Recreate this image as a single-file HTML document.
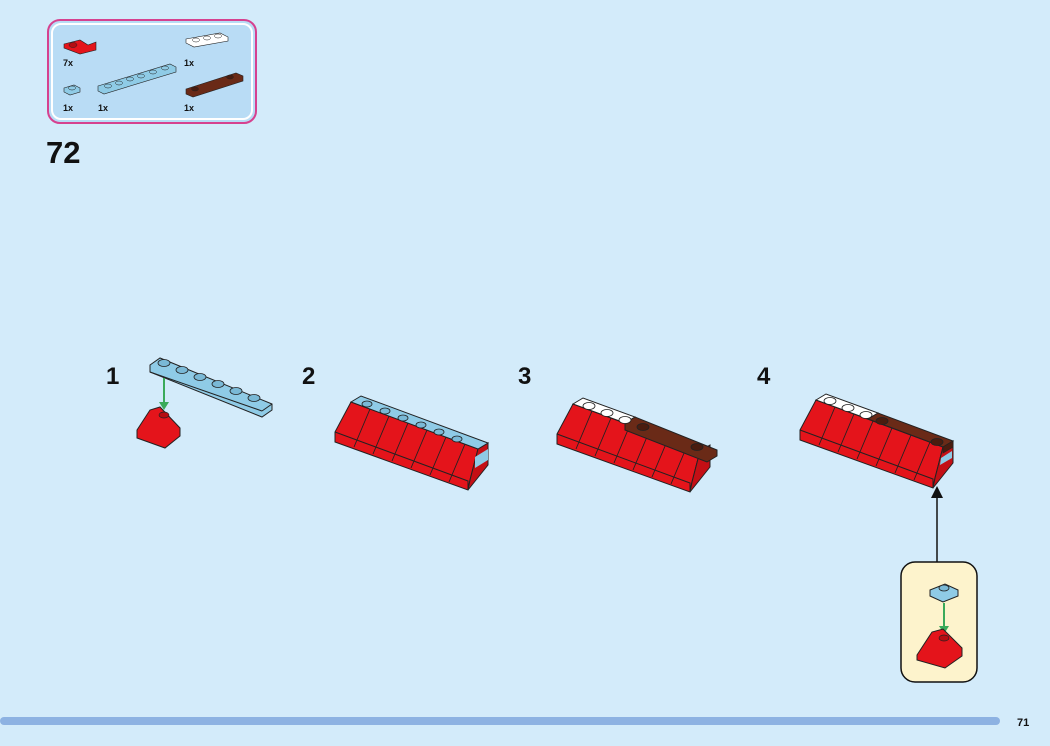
<!DOCTYPE html>
<html><head><style>
body{margin:0;width:1050px;height:746px;background:#d3ebfa;overflow:hidden;font-family:"Liberation Sans",sans-serif}
svg{position:absolute;left:0;top:0}
</style></head><body>
<svg width="1050" height="746" viewBox="0 0 1050 746">
<defs>
<g id="slope">
  <!-- red slopes body -->
  <polygon points="816,400 943,447 935,478 933,488 800,440 800,430" fill="#e4141b" stroke="#222" stroke-width="1"/>
  <polyline points="800,430 933,479 933,488" fill="none" stroke="#222" stroke-width="1"/>
  <g stroke="#222" stroke-width="0.9">
    <line x1="835" y1="407" x2="819" y2="445"/>
    <line x1="854" y1="414" x2="838" y2="452"/>
    <line x1="873" y1="421" x2="857" y2="459"/>
    <line x1="892" y1="428" x2="876" y2="466"/>
    <line x1="911" y1="435" x2="895" y2="473"/>
    <line x1="930" y1="442" x2="914" y2="480"/>
  </g>
  <polygon points="943,447 953,441 953,463 933,488 935,478" fill="#c40f15" stroke="#222" stroke-width="1"/>
</g>
</defs>

<!-- parts box -->
<rect x="48" y="20" width="208" height="103" rx="12" fill="#b9dcf5" stroke="#d6418f" stroke-width="2"/>
<rect x="52" y="24" width="200" height="95" rx="9" fill="none" stroke="#fff" stroke-width="2"/>
<polygon points="64,44 80,40 88,45 96,42 96,50 80,54 64,48" fill="#e4141b" stroke="#222" stroke-width=".6"/>
<ellipse cx="73" cy="45" rx="4" ry="2.5" fill="#b50d12" stroke="#222" stroke-width=".5"/>
<polygon points="186,39 220,33 228,37 228,41 194,47 186,43" fill="#fff" stroke="#222" stroke-width=".6"/>
<g fill="#fff" stroke="#222" stroke-width=".5"><ellipse cx="196" cy="40" rx="3.5" ry="2"/><ellipse cx="207" cy="38" rx="3.5" ry="2"/><ellipse cx="218" cy="36" rx="3.5" ry="2"/></g>
<polygon points="64,88 74,85 80,88 80,92 70,95 64,92" fill="#8fcbe6" stroke="#222" stroke-width=".6"/>
<ellipse cx="72" cy="88" rx="3.5" ry="2" fill="#8fcbe6" stroke="#222" stroke-width=".5"/>
<polygon points="98,86 170,64 176,67 176,72 104,94 98,91" fill="#8fcbe6" stroke="#222" stroke-width=".6"/>
<g fill="#8fcbe6" stroke="#222" stroke-width=".5"><ellipse cx="108" cy="86" rx="3.5" ry="2"/><ellipse cx="119" cy="83" rx="3.5" ry="2"/><ellipse cx="130" cy="79" rx="3.5" ry="2"/><ellipse cx="141" cy="76" rx="3.5" ry="2"/><ellipse cx="153" cy="72" rx="3.5" ry="2"/><ellipse cx="165" cy="68" rx="3.5" ry="2"/></g>
<polygon points="186,89 236,73 243,76 243,81 193,97 186,94" fill="#6a2a17" stroke="#222" stroke-width=".6"/>
<g fill="#4a1c0f" stroke="#222" stroke-width=".5"><ellipse cx="195" cy="89" rx="3.5" ry="2"/><ellipse cx="230" cy="77" rx="3.5" ry="2"/></g>
<g font-size="9" font-weight="bold" fill="#111"><text x="63" y="66">7x</text><text x="184" y="66">1x</text><text x="63" y="111">1x</text><text x="98" y="111">1x</text><text x="184" y="111">1x</text></g>

<text x="46" y="163" font-size="31" font-weight="bold" fill="#111">72</text>

<g font-size="24" font-weight="bold" fill="#111">
<text x="106" y="384">1</text><text x="302" y="384">2</text><text x="518" y="384">3</text><text x="757" y="384">4</text></g>

<!-- step 1 -->
<polygon points="150,365 160,358 272,404 272,410 262,417 150,372" fill="#8fcbe6" stroke="#222" stroke-width="1"/>
<line x1="150" y1="372" x2="262" y2="411" stroke="#222"/><line x1="262" y1="411" x2="272" y2="404" stroke="#222"/>
<g fill="#7ab9d6" stroke="#222" stroke-width=".8"><ellipse cx="164" cy="363" rx="6" ry="3.5"/><ellipse cx="182" cy="370" rx="6" ry="3.5"/><ellipse cx="200" cy="377" rx="6" ry="3.5"/><ellipse cx="218" cy="384" rx="6" ry="3.5"/><ellipse cx="236" cy="391" rx="6" ry="3.5"/><ellipse cx="254" cy="398" rx="6" ry="3.5"/></g>
<line x1="164" y1="378" x2="164" y2="404" stroke="#3aaa5a" stroke-width="2"/>
<polygon points="159,402 169,402 164,410" fill="#3aaa5a"/>
<polygon points="137,430 150,410 160,407 180,428 180,436 165,448 137,438" fill="#e4141b" stroke="#222" stroke-width="1"/>
<ellipse cx="164" cy="415" rx="5" ry="3" fill="#b50d12" stroke="#222" stroke-width=".7"/>

<!-- step 2 -->
<g transform="translate(-465,2) scale(1,1)">
<use href="#slope"/>
<polygon points="816,400 826,394 953,441 943,447" fill="#8fcbe6" stroke="#222"/>
<g fill="#7ab9d6" stroke="#222" stroke-width=".8"><ellipse cx="832" cy="402" rx="5" ry="3"/><ellipse cx="850" cy="409" rx="5" ry="3"/><ellipse cx="868" cy="416" rx="5" ry="3"/><ellipse cx="886" cy="423" rx="5" ry="3"/><ellipse cx="904" cy="430" rx="5" ry="3"/><ellipse cx="922" cy="437" rx="5" ry="3"/></g>
<polygon points="940,455 953,447 953,458 940,466" fill="#8fcbe6"/>
</g>

<!-- step 3 -->
<g transform="translate(-243,4)">
<use href="#slope"/>
<polygon points="816,400 826,394 878,413 868,419" fill="#fff" stroke="#222"/>
<polygon points="868,419 878,413 960,446 960,452 950,458 868,426" fill="#6a2a17" stroke="#222"/>
<g fill="#fff" stroke="#222" stroke-width=".8"><ellipse cx="832" cy="402" rx="6" ry="3.5"/><ellipse cx="850" cy="409" rx="6" ry="3.5"/><ellipse cx="868" cy="416" rx="6" ry="3.5"/></g>
<g fill="#4a1c0f" stroke="#222" stroke-width=".8"><ellipse cx="886" cy="423" rx="6" ry="3.5"/><ellipse cx="940" cy="443" rx="6" ry="3.5"/></g>
</g>

<!-- step 4 -->
<use href="#slope"/>
<polygon points="816,400 826,394 878,413 868,419" fill="#fff" stroke="#222"/>
<polygon points="868,419 878,413 953,441 943,447" fill="#6a2a17" stroke="#222"/>
<polygon points="943,447 953,441 953,447 943,453" fill="#4a1c0f" stroke="#222" stroke-width=".7"/>
<polygon points="941,458 952,451 952,458 940,465" fill="#8fcbe6"/>
<g fill="#fff" stroke="#222" stroke-width=".8"><ellipse cx="830" cy="401" rx="6" ry="3.5"/><ellipse cx="848" cy="408" rx="6" ry="3.5"/><ellipse cx="866" cy="415" rx="6" ry="3.5"/></g>
<g fill="#4a1c0f" stroke="#222" stroke-width=".8"><ellipse cx="882" cy="421" rx="6" ry="3.5"/><ellipse cx="937" cy="442" rx="6" ry="3.5"/></g>

<!-- callout -->
<line x1="937" y1="562" x2="937" y2="495" stroke="#111" stroke-width="1.5"/>
<polygon points="931,498 943,498 937,486" fill="#111"/>
<rect x="901" y="562" width="76" height="120" rx="14" fill="#fdf3cc" stroke="#111" stroke-width="1.5"/>
<polygon points="930,590 945,584 958,590 958,596 943,602 930,596" fill="#8fcbe6" stroke="#222"/>
<ellipse cx="944" cy="588" rx="5" ry="3" fill="#7ab9d6" stroke="#222" stroke-width=".8"/>
<line x1="944" y1="603" x2="944" y2="628" stroke="#3aaa5a" stroke-width="2"/>
<polygon points="939,626 949,626 944,634" fill="#3aaa5a"/>
<polygon points="917,655 932,632 943,629 962,648 962,656 945,668 917,660" fill="#e4141b" stroke="#222"/>
<ellipse cx="944" cy="638" rx="5" ry="3" fill="#b50d12" stroke="#222" stroke-width=".7"/>

<!-- bottom bar -->
<line x1="4" y1="721" x2="996" y2="721" stroke="#8db2e2" stroke-width="8" stroke-linecap="round"/>
<text x="1017" y="726" font-size="11" font-weight="bold" fill="#111">71</text>
</svg>
</body></html>
